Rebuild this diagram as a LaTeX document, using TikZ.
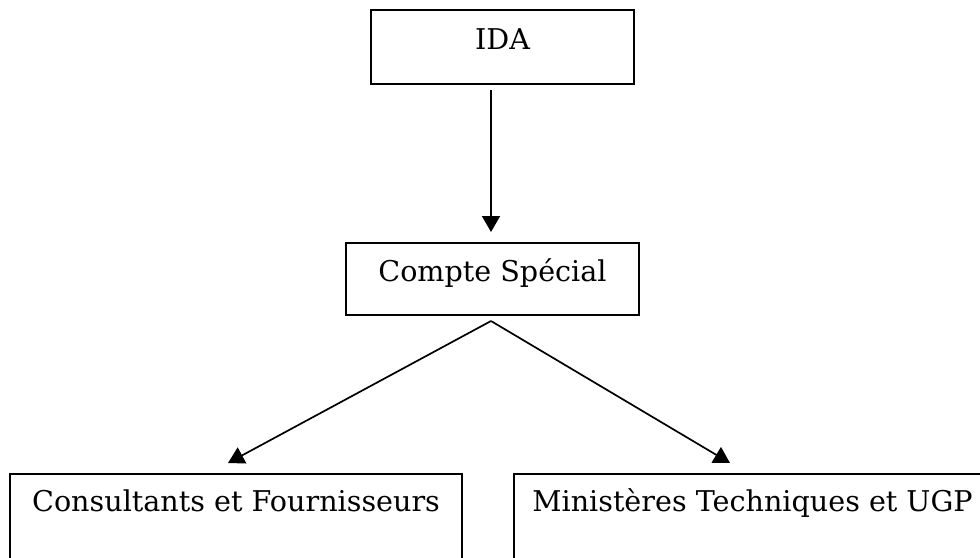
\documentclass[tikz,border=0pt]{standalone}
\usepackage{fontspec}
\setmainfont{DejaVu Serif}
\usetikzlibrary{arrows.meta}
\begin{document}
\begin{tikzpicture}[x=0.5pt, y=-0.5pt,
        box/.style={draw, line width=1pt, inner sep=0pt, anchor=north west,
            font=\fontsize{14.3}{17}\selectfont},
        link/.style={line width=0.85pt, -{Triangle[length=8pt,width=9pt]}}]
    % Frame
    \clip (0,0) rectangle (980,557);

    % Boxes
    \node[box, minimum width=131.5pt, text height=19.5pt, text depth=17.5pt] (ida) at (370,9) {IDA};
    \node[box, minimum width=146.5pt, text height=19pt, text depth=17pt] (cs) at (345,242) {Compte Spécial};
    \node[box, minimum width=226pt, text height=18.5pt, text depth=81.5pt] (cons) at (9,473) {Consultants et Fournisseurs};
    \node[box, minimum width=238.5pt, text height=18.5pt, text depth=81.5pt] (mt) at (513,473) {Ministères Techniques et UGP};

    % Arrows
    \draw[link] ([xshift=-0.75pt,yshift=-2.5pt]ida.south -| cs.north) -- ([xshift=-0.75pt,yshift=5pt]cs.north);
    \draw[link] ([xshift=-0.75pt,yshift=-2.5pt]cs.south) -- ([xshift=-4pt,yshift=5pt]cons.north);
    \draw[link] ([xshift=-0.75pt,yshift=-2.5pt]cs.south) -- ([xshift=-11.25pt,yshift=5pt]mt.north);
\end{tikzpicture}
\end{document}
